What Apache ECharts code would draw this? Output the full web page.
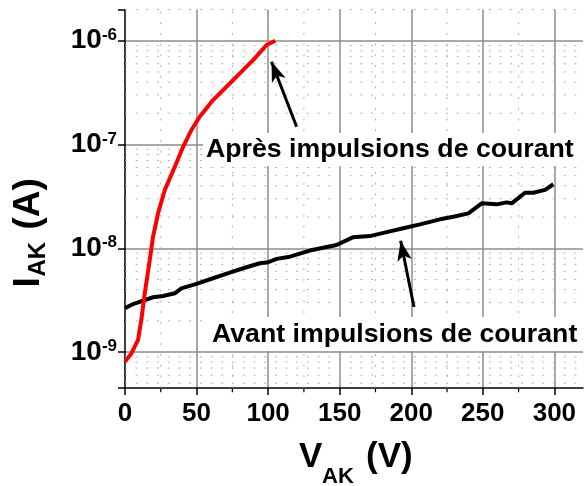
<!DOCTYPE html>
<html><head><meta charset="utf-8">
<script src="https://cdn.jsdelivr.net/npm/echarts@6/dist/echarts.min.js"></script>
<style>html,body{margin:0;padding:0;background:#fff}#c{width:584px;height:486px}</style>
</head><body><div id="c"></div>
<script>
// ---- data ----
const apresV = [0, 4.5, 9.1, 11.4, 13.8, 17.3, 19.6, 23.1, 27.8, 34.8, 40.6, 46.4, 52.2, 61.5, 70.9, 80.2, 89.5, 98.9, 105];
const apresI = [8.07e-10, 9.7e-10, 1.31e-9, 2.04e-9, 3.68e-9, 7.7e-9, 1.29e-8, 2.17e-8, 3.64e-8, 6.1e-8, 9.5e-8, 1.38e-7, 1.85e-7, 2.68e-7, 3.6e-7, 4.85e-7, 6.5e-7, 9.1e-7, 1.0e-6];
const avantV = [0, 5.6, 13.8, 19.6, 26.6, 34.8, 39.4, 49.9, 61.5, 73.2, 84.9, 94.2, 100, 105.9, 115.2, 129.2, 147.8, 159.5, 171.1, 182.8, 194.4, 206.1, 220.1, 229.4, 239.9, 249.2, 259.7, 266.7, 270.2, 279.5, 285.3, 293.5, 299.3];
const avantI = [2.64e-9, 2.9e-9, 3.17e-9, 3.37e-9, 3.47e-9, 3.68e-9, 4.11e-9, 4.53e-9, 5.14e-9, 5.82e-9, 6.56e-9, 7.17e-9, 7.33e-9, 7.9e-9, 8.3e-9, 9.5e-9, 1.075e-8, 1.28e-8, 1.31e-8, 1.43e-8, 1.56e-8, 1.70e-8, 1.90e-8, 2.01e-8, 2.17e-8, 2.71e-8, 2.65e-8, 2.77e-8, 2.71e-8, 3.43e-8, 3.43e-8, 3.65e-8, 4.14e-8];
const xTicks = [0, 50, 100, 150, 200, 250, 300];
const xMinorTicks = [25, 75, 125, 175, 225, 275];
const yDecades = [-10, -9, -8, -7, -6];
const labelApres = 'Après impulsions de courant';
const labelAvant = 'Avant impulsions de courant';
// arrows: [tailV, tailI, headV, headI]
const arrowApres = [119.9, 1.48e-7, 102.4, 6.28e-7];
const arrowAvant = [201.9, 2.72e-9, 192.6, 1.18e-8];

const X_MIN = 0, X_MAX = 320;
const Y_MIN = 4.5e-10, Y_MAX = 2e-6;
const FONT = '"Liberation Sans", Arial, sans-serif';

const minorVals = [];
yDecades.forEach(d => { for (let m = 2; m <= 9; m++) { const v = m * Math.pow(10, d); if (v >= Y_MIN && v <= Y_MAX * 1.0001) minorVals.push(v); } });

// helper: polyline segments separated by gaps
const segs = list => { const out = []; list.forEach(s => { out.push(s[0], s[1], ['-', '-']); }); return out; };
const TICK_DX = 3.5;                 // minor y tick length, in V units (~5 px)
const TICK_FY = Math.pow(10, -0.04); // minor x tick length, in decades (~4 px)

const chart = echarts.init(document.getElementById('c'), null, {renderer: 'canvas'});
const supFmt = v => {
  const l = Math.log10(v); const e = Math.round(l);
  if (Math.abs(l - e) > 1e-6) return '';
  return '{b|10}{s|' + e + '}';
};
const helper = (data, style, z, clip) => ({
  type: 'line', z: z, silent: true, showSymbol: false, symbol: 'none', connectNulls: false,
  clip: clip, data: data, lineStyle: style, emphasis: {disabled: true}
});

chart.setOption({
  animation: false,
  backgroundColor: '#fff',
  grid: {left: 125, top: 9.5, right: 1, height: 378.5},
  xAxis: {
    type: 'value', min: X_MIN, max: X_MAX, interval: 50,
    axisLine: {show: true, onZero: false, lineStyle: {color: '#000', width: 1.5}},
    axisTick: {show: true, length: 7, customValues: xTicks, lineStyle: {color: '#000', width: 1.5}},
    minorTick: {show: false},
    axisLabel: {show: true, margin: 13, color: '#000', fontFamily: FONT, fontWeight: 'bold', fontSize: 26,
      customValues: xTicks, formatter: v => String(v)},
    splitLine: {show: true, showMinLine: false, lineStyle: {color: '#8c8c8c', width: 1.5}}
  },
  yAxis: {
    type: 'log', logBase: 10, min: Y_MIN, max: Y_MAX,
    axisLine: {show: true, lineStyle: {color: '#000', width: 1.5}},
    axisTick: {show: true, length: 7, lineStyle: {color: '#000', width: 1.5}},
    minorTick: {show: false},
    axisLabel: {show: true, margin: 8, color: '#000', formatter: supFmt,
      rich: {
        b: {fontFamily: FONT, fontWeight: 'bold', fontSize: 28, color: '#000'},
        s: {fontFamily: FONT, fontWeight: 'bold', fontSize: 17, color: '#000', verticalAlign: 'top'}
      }},
    splitLine: {show: true, showMinLine: false, showMaxLine: false, lineStyle: {color: '#8c8c8c', width: 1.5}}
  },
  series: [
    helper(segs(minorVals.map(v => [[X_MIN, v], [X_MAX, v]])), {color: '#b0b0b0', width: 1, type: [2, 8.7]}, 1, true),
    helper(segs(xMinorTicks.map(x => [[x, Y_MIN], [x, Y_MAX]])), {color: '#b0b0b0', width: 1, type: [2, 8.7]}, 1, true),
    helper(segs(minorVals.map(v => [[X_MIN - TICK_DX, v], [X_MIN, v]])), {color: '#000', width: 1.2}, 2, false),
    helper(segs(xMinorTicks.map(x => [[x, Y_MIN], [x, Y_MIN * TICK_FY]])), {color: '#000', width: 1.2}, 2, false),
    {
      name: 'Avant', type: 'line', z: 20, showSymbol: false, symbol: 'none',
      data: avantV.map((v, i) => [v, avantI[i]]),
      lineStyle: {color: '#000', width: 4}
    },
    {
      name: 'Après', type: 'line', z: 21, showSymbol: false, symbol: 'none',
      data: apresV.map((v, i) => [v, apresI[i]]),
      lineStyle: {color: '#ff0000', width: 4}
    },
    {
      type: 'line', z: 30, silent: true, data: [[10, 1e-9]], showSymbol: false, symbol: 'none',
      lineStyle: {opacity: 0},
      markLine: {
        silent: true, animation: false, label: {show: false},
        lineStyle: {color: '#000', width: 3, type: 'solid'},
        symbol: ['none', 'arrow'], symbolSize: [11, 20],
        data: [arrowApres, arrowAvant].map(a => [{coord: [a[0], a[1]]}, {coord: [a[2], a[3]]}])
      }
    }
  ],
  graphic: [
    {type: 'rect', z: 10, shape: {x: 203, y: 133, width: 381, height: 33}, style: {fill: '#fff'}, silent: true},
    {type: 'rect', z: 10, shape: {x: 208, y: 317, width: 376, height: 34}, style: {fill: '#fff'}, silent: true},
    {type: 'text', z: 11, x: 206, y: 136, style: {text: labelApres, font: 'bold 26.7px ' + FONT, fill: '#000', verticalAlign: 'top'}},
    {type: 'text', z: 11, x: 212, y: 321, style: {text: labelAvant, font: 'bold 26.7px ' + FONT, fill: '#000', verticalAlign: 'top'}},
    // x title
    {type: 'text', z: 11, x: 299, y: 457, style: {text: 'V', font: 'bold 35px ' + FONT, fill: '#000', verticalAlign: 'middle'}},
    {type: 'text', z: 11, x: 322, y: 477, style: {text: 'AK', font: 'bold 22px ' + FONT, fill: '#000', verticalAlign: 'middle'}},
    {type: 'text', z: 11, x: 366, y: 457, style: {text: '(V)', font: 'bold 35px ' + FONT, fill: '#000', verticalAlign: 'middle'}},
    // y title (rotated)
    {type: 'group', x: 42, y: 287.5, rotation: Math.PI / 2, children: [
      {type: 'text', z: 11, x: 0, y: -12.8, style: {text: 'I', font: 'bold 37px ' + FONT, fill: '#000', verticalAlign: 'middle'}},
      {type: 'text', z: 11, x: 11, y: -3.3, style: {text: 'AK', font: 'bold 24px ' + FONT, fill: '#000', verticalAlign: 'middle'}},
      {type: 'text', z: 11, x: 58, y: -12.8, style: {text: '(A)', font: 'bold 37px ' + FONT, fill: '#000', verticalAlign: 'middle'}}
    ]}
  ]
});
</script>
</body></html>
